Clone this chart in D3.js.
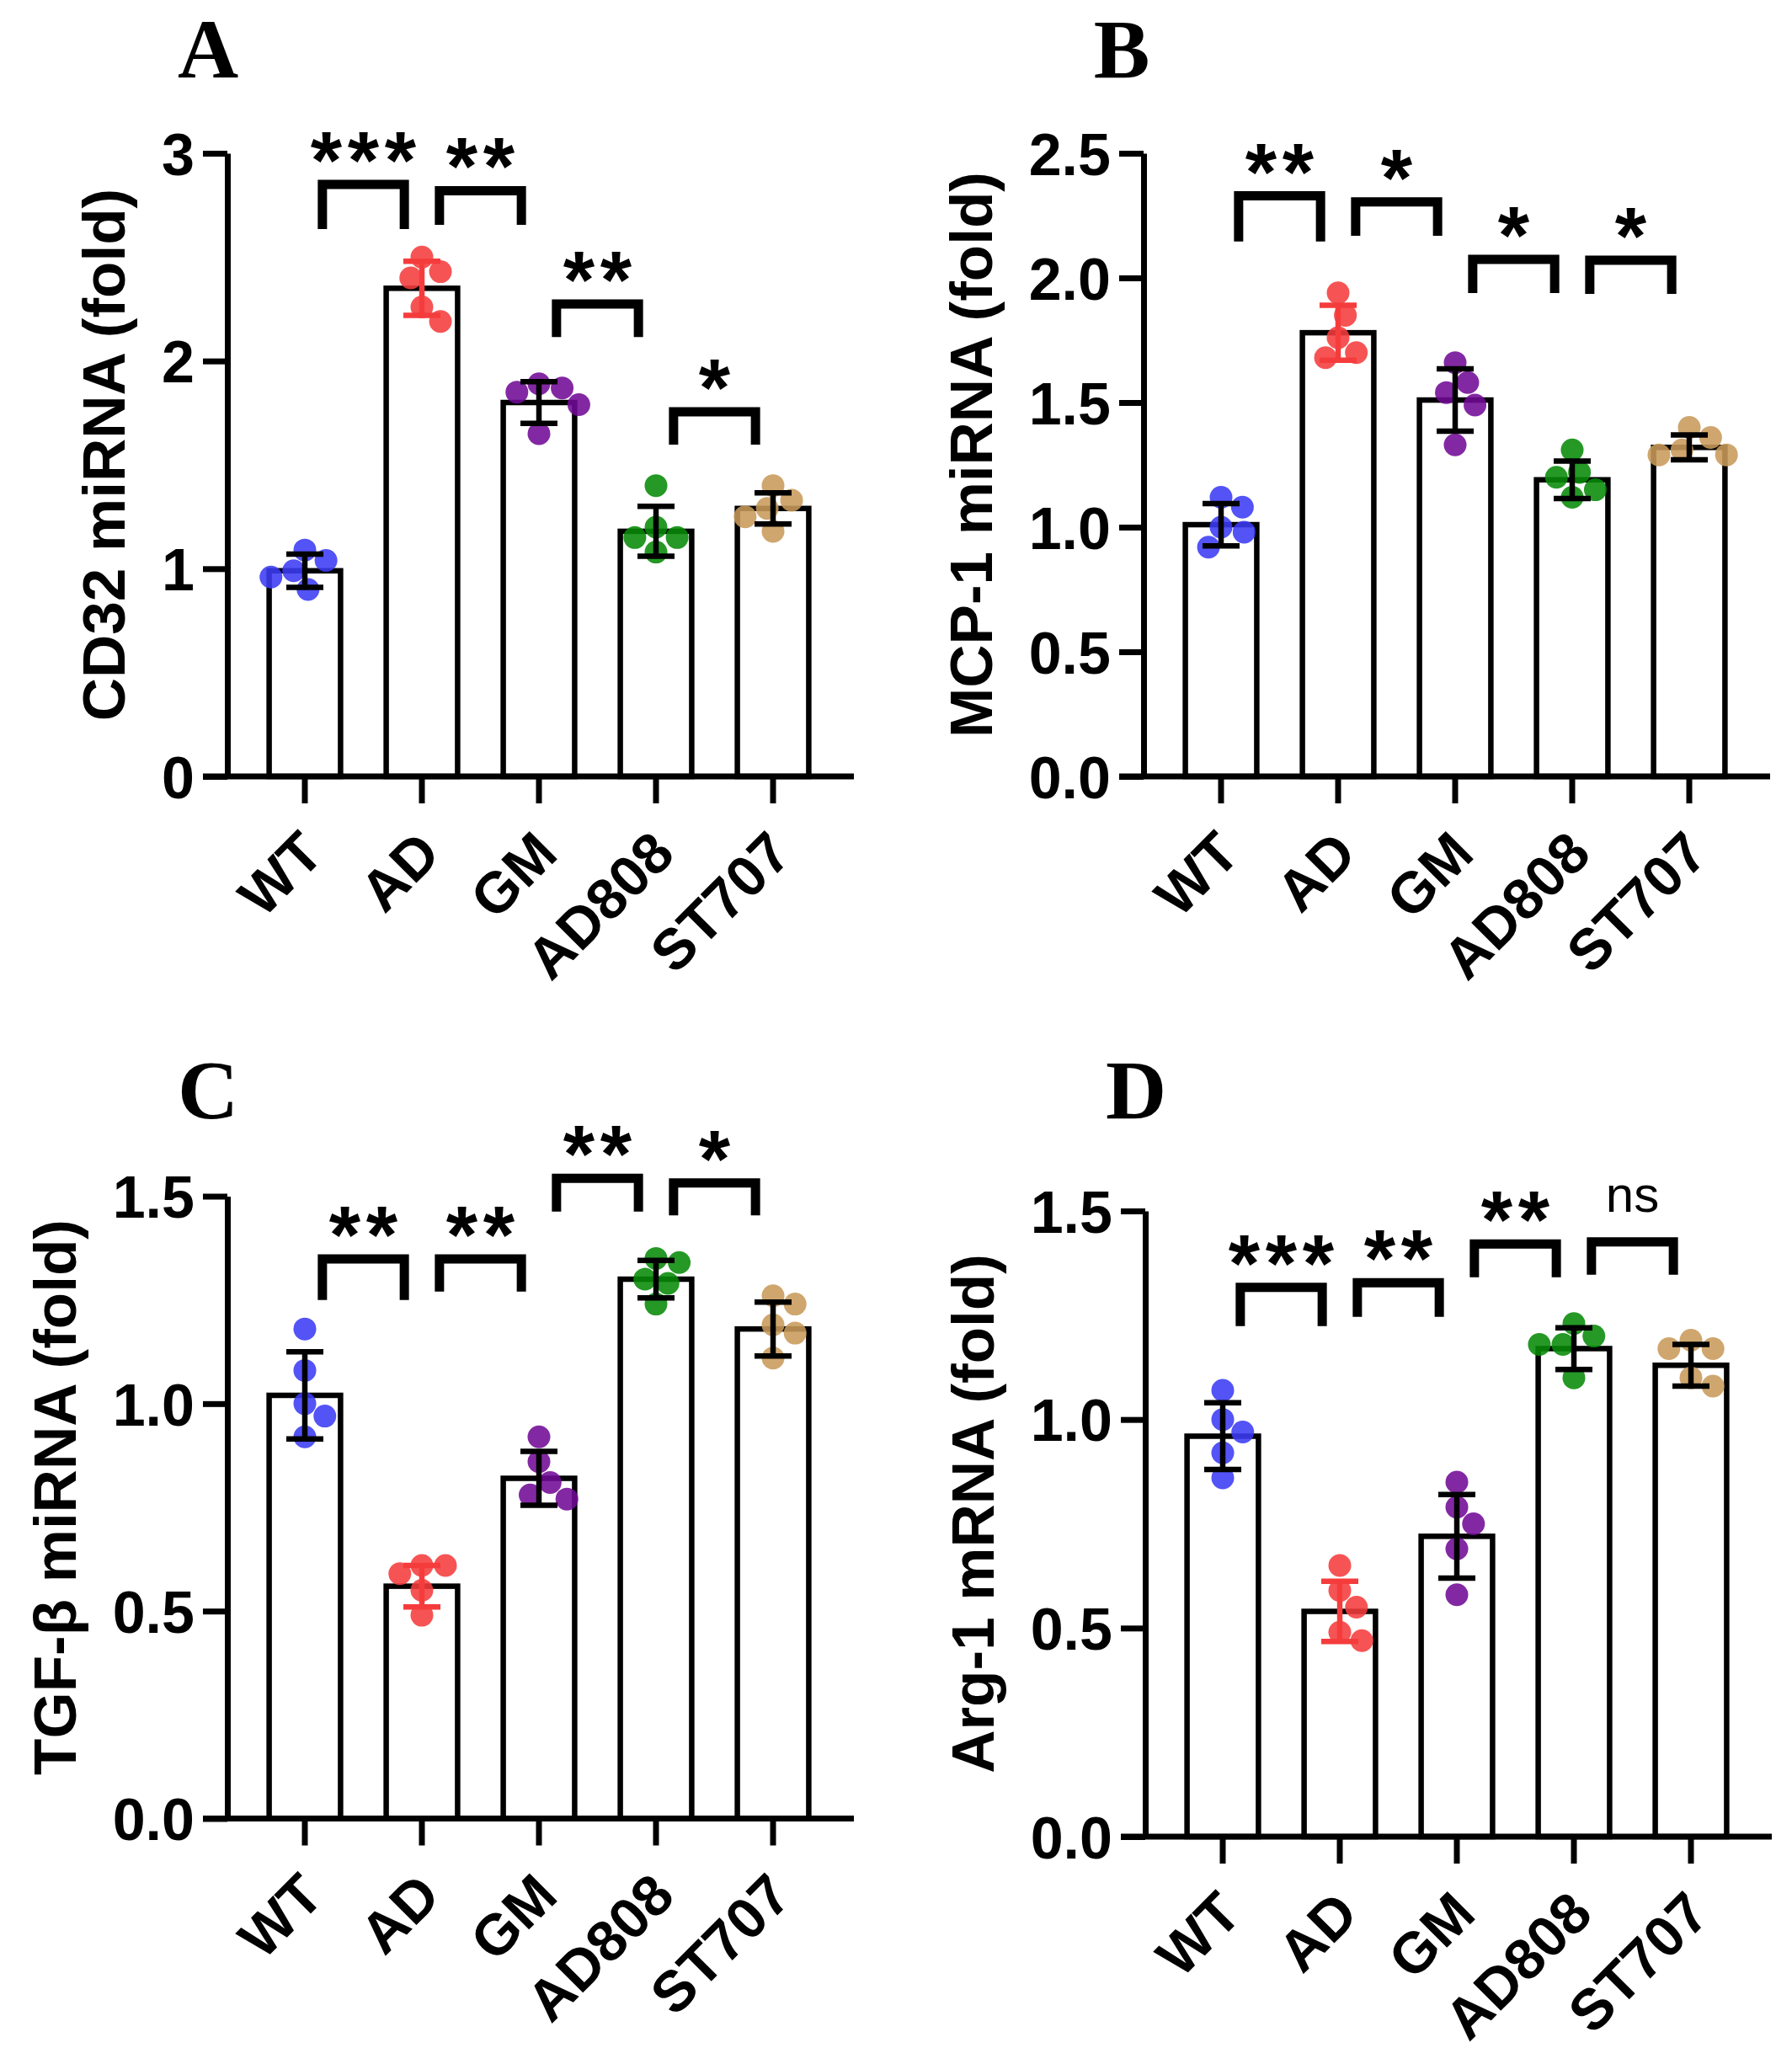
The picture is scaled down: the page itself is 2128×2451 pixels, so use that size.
<!DOCTYPE html>
<html>
<head>
<meta charset="utf-8">
<script src="https://cdn.jsdelivr.net/npm/d3@7"></script>
<style>
  body { margin: 0; background: #fff; }
  svg text { font-family: "Liberation Sans", Arial, sans-serif; }
  svg text.letter { font-family: "Liberation Serif", "Times New Roman", serif; }
</style>
</head>
<body>
<svg id="fig" width="2128" height="2451"></svg>
<script>
// groups shared by all four panels
const groups = ["WT", "AD", "GM", "AD808", "ST707"];
const groupColors = ["#3b3bf5", "#f53c3c", "#720a96", "#078a07", "#c89a5a"];

// A: CD32 miRNA
const cd32Mean = [0.99, 2.35, 1.80, 1.18, 1.29];
const cd32Sd = [0.08, 0.13, 0.10, 0.12, 0.075];
const cd32Points = [
  [1.09, 1.04, 0.99, 0.96, 0.90],
  [2.50, 2.43, 2.40, 2.26, 2.19],
  [1.87, 1.89, 1.85, 1.79, 1.65],
  [1.40, 1.20, 1.15, 1.15, 1.08],
  [1.40, 1.33, 1.29, 1.25, 1.18]
];
// [from, to, top of bracket, end of legs, label]
const cd32Sig = [
  ["WT", "AD", 2.85, 2.635, "***"],
  ["AD", "GM", 2.82, 2.655, "**"],
  ["GM", "AD808", 2.274, 2.115, "**"],
  ["AD808", "ST707", 1.755, 1.597, "*"]
];
const cd32Ticks = [0, 1, 2, 3];

// B: MCP-1 miRNA
const mcp1Mean = [1.01, 1.78, 1.51, 1.19, 1.32];
const mcp1Sd = [0.085, 0.11, 0.125, 0.075, 0.05];
const mcp1Points = [
  [1.12, 1.08, 1.00, 0.98, 0.92],
  [1.94, 1.85, 1.76, 1.70, 1.68],
  [1.66, 1.58, 1.54, 1.49, 1.33],
  [1.31, 1.22, 1.20, 1.15, 1.12],
  [1.40, 1.36, 1.29, 1.29, 1.31]
];
const mcp1Sig = [
  ["WT", "AD", 2.329, 2.146, "**"],
  ["AD", "GM", 2.305, 2.169, "*"],
  ["GM", "AD808", 2.074, 1.939, "*"],
  ["AD808", "ST707", 2.071, 1.936, "*"]
];
const mcp1Ticks = [0, 0.5, 1.0, 1.5, 2.0, 2.5];

// C: TGF-beta miRNA
const tgfMean = [1.02, 0.56, 0.82, 1.30, 1.18];
const tgfSd = [0.105, 0.05, 0.065, 0.045, 0.065];
const tgfPoints = [
  [1.18, 1.08, 1.00, 0.97, 0.92],
  [0.61, 0.61, 0.59, 0.55, 0.49],
  [0.92, 0.86, 0.81, 0.78, 0.77],
  [1.35, 1.34, 1.30, 1.29, 1.24],
  [1.26, 1.24, 1.19, 1.17, 1.11]
];
const tgfSig = [
  ["WT", "AD", 1.349, 1.250, "**"],
  ["AD", "GM", 1.349, 1.270, "**"],
  ["GM", "AD808", 1.543, 1.463, "**"],
  ["AD808", "ST707", 1.532, 1.454, "*"]
];
const tgfTicks = [0, 0.5, 1.0, 1.5];

// D: Arg-1 mRNA
const argMean = [0.96, 0.54, 0.72, 1.17, 1.13];
const argSd = [0.08, 0.072, 0.10, 0.05, 0.05];
const argPoints = [
  [1.07, 1.00, 0.97, 0.92, 0.86],
  [0.65, 0.59, 0.55, 0.49, 0.47],
  [0.85, 0.79, 0.75, 0.69, 0.58],
  [1.23, 1.20, 1.18, 1.18, 1.10],
  [1.19, 1.17, 1.17, 1.10, 1.08]
];
const argSig = [
  ["WT", "AD", 1.317, 1.224, "***"],
  ["AD", "GM", 1.328, 1.246, "**"],
  ["GM", "AD808", 1.421, 1.341, "**"],
  ["AD808", "ST707", 1.426, 1.347, "ns"]
];
const argTicks = [0, 0.5, 1.0, 1.5];

const panels = [
  {letter: "A", title: "CD32 miRNA (fold)", mean: cd32Mean, sd: cd32Sd, points: cd32Points, sig: cd32Sig,
   ticks: cd32Ticks, fmt: d3.format("d"), ox: 270, top: 182, base: 922, lx: 247, ly: 92},
  {letter: "B", title: "MCP-1 miRNA (fold)", mean: mcp1Mean, sd: mcp1Sd, points: mcp1Points, sig: mcp1Sig,
   ticks: mcp1Ticks, fmt: d3.format(".1f"), ox: 1358, top: 182, base: 922, lx: 1332, ly: 92},
  {letter: "C", title: "TGF-\u03b2 miRNA (fold)", mean: tgfMean, sd: tgfSd, points: tgfPoints, sig: tgfSig,
   ticks: tgfTicks, fmt: d3.format(".1f"), ox: 270, top: 1420.5, base: 2159.5, lx: 247, ly: 1328},
  {letter: "D", title: "Arg-1 mRNA (fold)", mean: argMean, sd: argSd, points: argPoints, sig: argSig,
   ticks: argTicks, fmt: d3.format(".1f"), ox: 1360, top: 1438, base: 2181, lx: 1349, ly: 1328}
];

const svg = d3.select("#fig");
svg.append("rect").attr("width", 2128).attr("height", 2451).attr("fill", "#fff");

const dotR = 13.5;

// simple beeswarm: spread points sideways so they do not overlap
function swarm(values, y) {
  const d = 28;
  const placed = [];
  const order = values.map((v, i) => ({v: v, i: i, py: y(v)})).sort((a, b) => b.v - a.v);
  order.forEach(function(p) {
    const cands = [0];
    placed.forEach(function(q) {
      const dy = p.py - q.py;
      if (Math.abs(dy) < d) {
        const dx = Math.sqrt(d * d - dy * dy);
        cands.push(q.dx + dx, q.dx - dx);
      }
    });
    cands.sort((a, b) => Math.abs(a) - Math.abs(b));
    const ok = cands.find(c => placed.every(q => (c - q.dx) ** 2 + (p.py - q.py) ** 2 >= d * d - 0.5));
    p.dx = ok;
    placed.push(p);
  });
  return order;
}

function drawPanel(p) {
  const g = svg.append("g").attr("class", "panel-" + p.letter);
  const step = 139;
  const x = d3.scaleBand().domain(groups).range([p.ox + 22.5, p.ox + 22.5 + step * groups.length]);
  const y = d3.scaleLinear().domain([0, d3.max(p.ticks)]).range([p.base, p.top]);
  const barW = x.bandwidth() * 0.61;
  const cx = d => x(d) + x.bandwidth() / 2;

  // bars
  g.selectAll("rect.bar").data(groups).join("rect")
    .attr("class", "bar")
    .attr("x", d => cx(d) - barW / 2)
    .attr("y", (d, i) => y(p.mean[i]))
    .attr("width", barW)
    .attr("height", (d, i) => p.base - y(p.mean[i]))
    .attr("fill", "#fff")
    .attr("stroke", "#000")
    .attr("stroke-width", 6.5);

  // points
  groups.forEach(function(grp, gi) {
    const pts = swarm(p.points[gi], y);
    g.append("g").selectAll("circle").data(pts).join("circle")
      .attr("cx", d => cx(grp) + d.dx)
      .attr("cy", d => d.py)
      .attr("r", dotR)
      .attr("fill", groupColors[gi])
      .attr("fill-opacity", 0.88);
  });

  // error bars (mean +/- SD)
  const capW = 44;
  groups.forEach(function(grp, gi) {
    const col = grp === "AD" ? groupColors[gi] : "#000";
    const hi = y(p.mean[gi] + p.sd[gi]);
    const lo = y(p.mean[gi] - p.sd[gi]);
    const eg = g.append("g").attr("stroke", col).attr("stroke-width", 6.5);
    eg.append("line").attr("x1", cx(grp)).attr("x2", cx(grp)).attr("y1", hi).attr("y2", lo);
    [hi, lo].forEach(v => eg.append("line")
      .attr("x1", cx(grp) - capW / 2).attr("x2", cx(grp) + capW / 2)
      .attr("y1", v).attr("y2", v));
  });

  // y axis
  const yAxis = g.append("g")
    .attr("transform", "translate(" + p.ox + ",0)")
    .call(d3.axisLeft(y).tickValues(p.ticks).tickFormat(p.fmt).tickSize(29).tickPadding(10).tickSizeOuter(0));
  yAxis.select(".domain").attr("stroke-width", 7);
  yAxis.selectAll(".tick line").attr("stroke-width", 7);
  yAxis.selectAll(".tick text")
    .attr("font-size", 70).attr("font-weight", "bold").attr("fill", "#000")
    .attr("dy", "0.36em");

  // x axis
  const xAxis = g.append("g")
    .attr("transform", "translate(0," + p.base + ")")
    .call(d3.axisBottom(x).tickSize(32).tickSizeOuter(0));
  xAxis.select(".domain").remove();
  xAxis.append("line")
    .attr("x1", p.ox - 29).attr("x2", p.ox + 744)
    .attr("stroke", "#000").attr("stroke-width", 7);
  xAxis.selectAll(".tick line").attr("stroke-width", 7);
  xAxis.selectAll(".tick text")
    .attr("font-size", 68).attr("font-weight", "bold").attr("fill", "#000")
    .attr("x", 0).attr("y", 0).attr("dy", null)
    .attr("text-anchor", "end")
    .attr("transform", "translate(25,95) rotate(-45)");

  // y title, placed from the tick labels' extent
  let minX = Infinity;
  yAxis.selectAll(".tick text").each(function() {
    const b = this.getBBox();
    minX = Math.min(minX, p.ox - 29 - 10 - b.width);
  });
  g.append("text")
    .attr("transform", "translate(" + (minX - 44) + "," + ((p.top + p.base) / 2 - 12) + ") rotate(-90)")
    .attr("text-anchor", "middle")
    .attr("font-size", 71).attr("font-weight", "bold")
    .text(p.title);

  // significance brackets
  const half = step * 0.35;
  p.sig.forEach(function(s) {
    const mid = (cx(s[0]) + cx(s[1])) / 2;
    const x1 = mid - half, x2 = mid + half;
    const yt = y(s[2]), yl = y(s[3]);
    g.append("path")
      .attr("d", "M" + x1 + "," + yl + "V" + yt + "H" + x2 + "V" + yl)
      .attr("fill", "none").attr("stroke", "#000").attr("stroke-width", 11);
    if (s[4] === "ns") {
      g.append("text").attr("x", mid).attr("y", yt - 36)
        .attr("text-anchor", "middle").attr("font-size", 60)
        .text("ns");
    } else {
      const n = s[4].length;
      for (let k = 0; k < n; k++) {
        g.append("text")
          .attr("x", mid + (k - (n - 1) / 2) * 44)
          .attr("y", yt + 4)
          .attr("text-anchor", "middle")
          .attr("font-size", 96).attr("font-weight", "bold")
          .text("*");
      }
    }
  });

  // panel letter
  svg.append("text")
    .attr("class", "letter")
    .attr("x", p.lx).attr("y", p.ly)
    .attr("text-anchor", "middle")
    .attr("font-size", 100).attr("font-weight", "bold")
    .text(p.letter);
}

panels.forEach(drawPanel);
</script>
</body>
</html>
